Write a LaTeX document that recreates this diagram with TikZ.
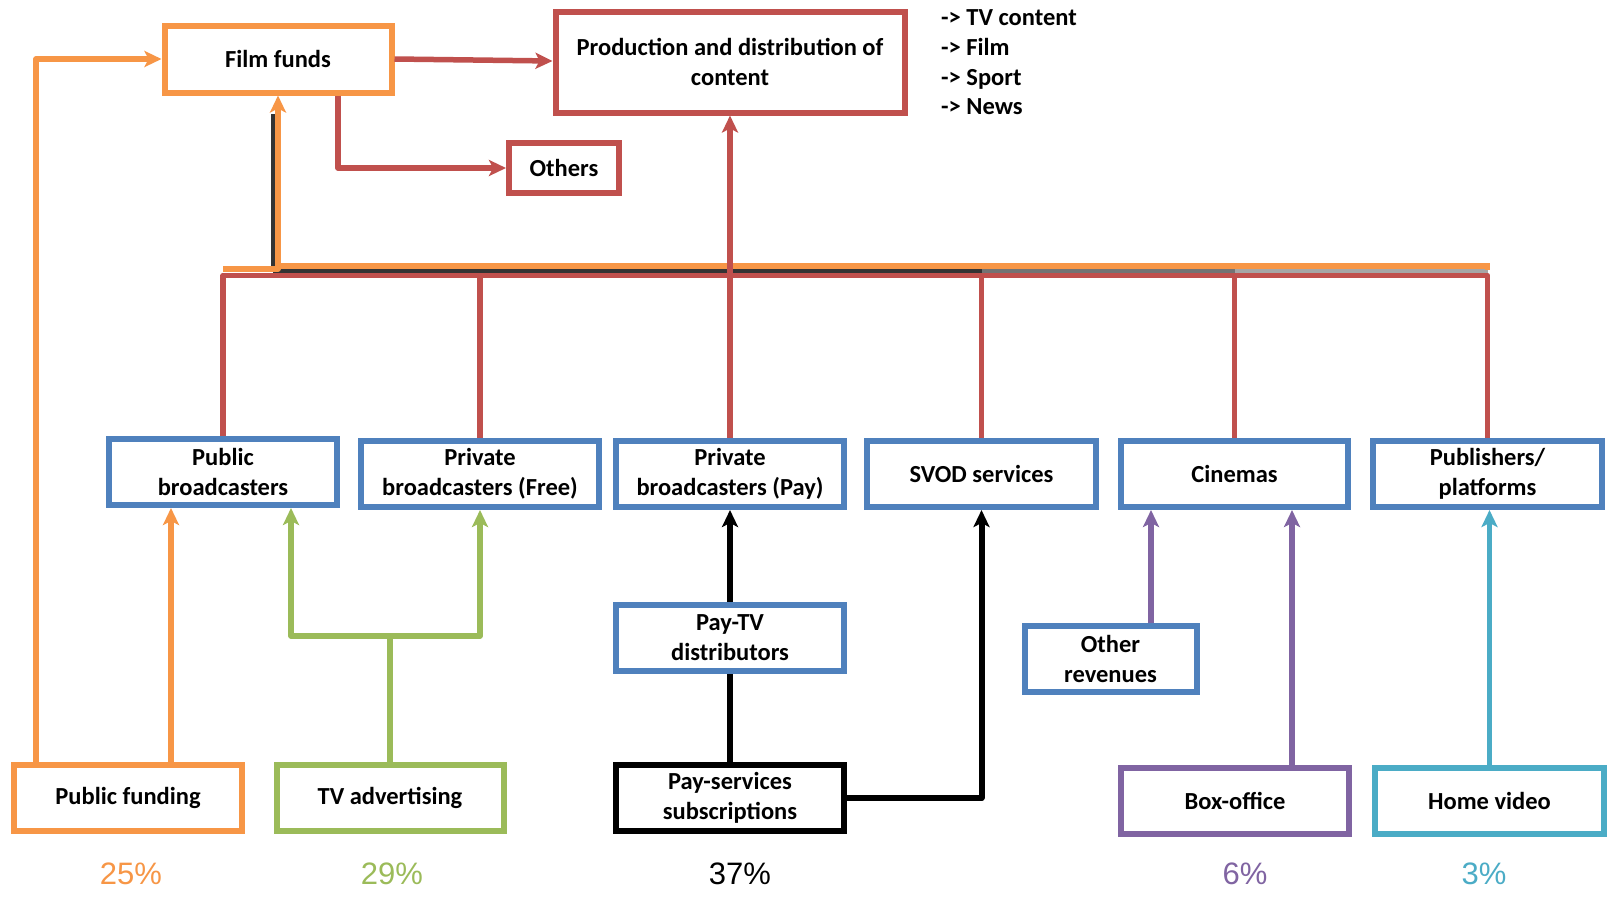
\documentclass[tikz,border=0pt]{standalone}
\usepackage{fontspec}
\setmainfont{Carlito}
\newfontfamily\pctfont{Liberation Sans}
\usetikzlibrary{arrows.meta}

\definecolor{orng}{HTML}{F79646}
\definecolor{redc}{HTML}{C0504D}
\definecolor{bluec}{HTML}{4F81BD}
\definecolor{grn}{HTML}{9BBB59}
\definecolor{purp}{HTML}{8064A2}
\definecolor{aqua}{HTML}{4BACC6}

\begin{document}
\begin{tikzpicture}[x=1pt,y=-1pt,
  box/.style={draw, line width=6pt, minimum height=66pt, align=center,
    inner sep=0pt, fill=white, font=\bfseries\fontsize{24.5}{30}\selectfont},
  link/.style={line width=5.5pt},
  arr/.style={link, -{Stealth[length=17pt,width=16pt,inset=4pt]}},
  item/.style={anchor=base west, inner sep=0pt, font=\bfseries\fontsize{24.5}{30}\selectfont},
  pct/.style={font=\pctfont\fontsize{31}{36}\selectfont}]
\fill[white] (0,0) rectangle (1613,898);
\useasboundingbox (0,0) rectangle (1613,898);

% top level
\node[box, draw=orng, minimum width=227, minimum height=67] (ff) at (278,59) {Film funds};
\node[box, draw=redc, minimum width=349, minimum height=101] (prod) at (730,62) {Production and distribution of\\content};
\node[box, draw=redc, minimum width=110, minimum height=50] (oth) at (564,168) {Others};

\node[item] (i1) at (941,25) {-> TV content};
\node[item] (i2) at (941,55) {-> Film};
\node[item] (i3) at (941,85) {-> Sport};
\node[item] (i4) at (941,114.5) {-> News};

% middle row
\node[box, draw=bluec, minimum width=228] (pubb) at (223,472) {Public\\broadcasters};
\node[box, draw=bluec, minimum width=238] (pfree) at (480,474) {Private\\broadcasters (Free)};
\node[box, draw=bluec, minimum width=228] (ppay) at (730,474) {Private\\broadcasters (Pay)};
\node[box, draw=bluec, minimum width=229] (svod) at (981.5,474) {SVOD services};
\node[box, draw=bluec, minimum width=227] (cin) at (1234.5,474) {Cinemas};
\node[box, draw=bluec, minimum width=229] (pub) at (1487.5,474) {Publishers/\\platforms};

\node[box, draw=bluec, minimum width=228] (paytv) at (730,638) {Pay-TV\\distributors};
\node[box, draw=bluec, minimum width=172] (othrev) at (1110.5,659) {Other\\revenues};

% revenue sources
\node[box, draw=orng, minimum width=228] (pfund) at (128,798) {Public funding};
\node[box, draw=grn, minimum width=227] (tvad) at (390,798) {TV advertising};
\node[box, draw=black, minimum width=228] (paysub) at (730,798) {Pay-services\\subscriptions};
\node[box, draw=purp, minimum width=228] (boxo) at (1235,801) {Box-office};
\node[box, draw=aqua, minimum width=229] (hv) at (1489.5,801) {Home video};

\node[pct, text=orng] (p1) at (131,874) {25\%};
\node[pct, text=grn] (p2) at (392,874) {29\%};
\node[pct, text=black] (p3) at (740,874) {37\%};
\node[pct, text=purp] (p4) at (1245,874) {6\%};
\node[pct, text=aqua] (p5) at (1484,874) {3\%};

% shadow trace of the film-fund bus
\draw[line width=3.5pt, black!80] ([xshift=-5pt]ff.south |- 0,271) -- ([xshift=-5pt]ff.south |- 0,114);
\draw[line width=3.5pt, black!80] ([xshift=-5pt]ff.south |- 0,271) -- (svod.north |- 0,271);
\draw[line width=3.5pt, black!55] (svod.north |- 0,271) -- (cin.north |- 0,271);
\draw[line width=3.5pt, black!35] (cin.north |- 0,271) -- (pub.north |- 0,271);

% bus to film funds
\draw[link, orng] (ff.south |- 0,266) -- (pub.north |- 0,266) -- ++(0,4);
\draw[arr, orng, line join=round] (pubb.north |- 0,269) -| (ff.south);

% bus to production
\draw[link, redc, line join=round] (pubb.north) -- (pubb.north |- 0,275.5) -- (pub.north |- 0,275.5) -- (pub.north);
\foreach \b in {pfree,ppay,svod,cin}
  \draw[link, redc] (\b.north) -- (\b.north |- 0,275.5);
\draw[arr, redc] (prod.south |- 0,275.5) -- (prod.south);

% film funds outputs
\draw[arr, redc] (ff.east) -- (prod.west |- 0,61);
\draw[arr, redc, line join=round] ([xshift=60pt]ff.south) |- (oth.west);

% public funding
\draw[arr, orng, line join=round] ([xshift=-92pt]pfund.north) |- (ff.west);
\draw[arr, orng] ([xshift=43pt]pfund.north) -- ([xshift=43pt]pfund.north |- pubb.south);

% TV advertising
\coordinate (tvj) at (tvad.north |- 0,636);
\draw[link, grn] (tvad.north) -- (tvj);
\draw[arr, grn, line join=round] (tvj) -| ([xshift=68pt]pubb.south);
\draw[arr, grn, line join=round] (tvj) -| (pfree.south);

% pay services
\draw[link, line width=6pt] (paysub.north) -- (paytv.south);
\draw[arr, line width=6pt] (paytv.north) -- (ppay.south);
\draw[arr, line width=6pt, line join=round] (paysub.east) -| (svod.south);

% cinema revenues
\draw[arr, purp] ([xshift=40.5pt]othrev.north) -- ([xshift=40.5pt]othrev.north |- cin.south);
\draw[arr, purp] ([xshift=57pt]boxo.north) -- ([xshift=57pt]boxo.north |- cin.south);

% home video
\draw[arr, aqua] (hv.north) -- (hv.north |- pub.south);
\end{tikzpicture}
\end{document}
